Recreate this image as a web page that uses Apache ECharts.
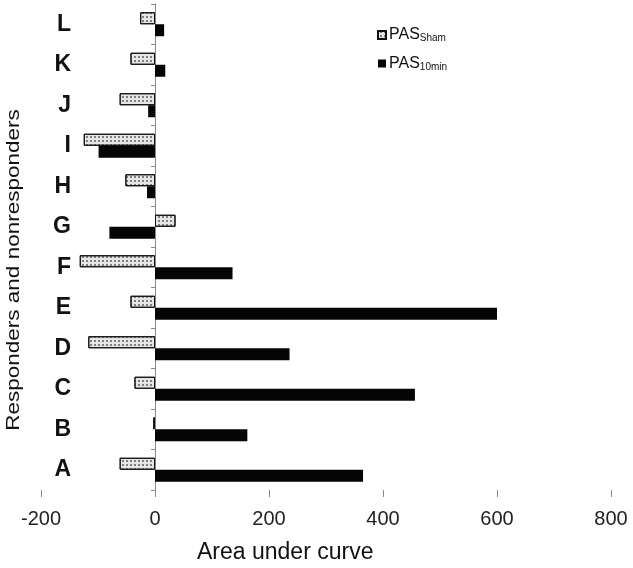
<!DOCTYPE html>
<html><head><meta charset="utf-8">
<script src="https://cdn.jsdelivr.net/npm/echarts@6/dist/echarts.min.js"></script>
<style>html,body{margin:0;padding:0;background:#fff}#c{width:633px;height:568px}</style>
</head><body><div id="c"></div>
<script>
const categories = ['A','B','C','D','E','F','G','H','I','J','K','L'];
const pasSham   = [-62, -3, -36, -117, -43, -132, 36, -52, -125, -62, -43, -26];
const pas10min  = [365, 162, 456, 236, 600, 136, -80, -14, -99, -12, 18, 16];
const xTicks = [-200, 0, 200, 400, 600, 800];
const xTitle = 'Area under curve';
const yTitle = 'Responders and nonresponders';

const chart = echarts.init(document.getElementById('c'), null, {renderer:'canvas'});
const font = 'Liberation Sans, Arial, sans-serif';
const shamStyle = {
  color: '#e6e6e6', borderColor: '#111', borderWidth: 1,
  decal: {symbol: 'rect', symbolSize: 0.7, color: '#222', dashArrayX: [[0, 1.5, 1.5, 0]], dashArrayY: [1.5, 1.5], rotation: 0}
};
chart.setOption({
  animation: false,
  textStyle: {fontFamily: font},
  grid: {left: 41, right: 22, top: 4, bottom: 78, containLabel: false},
  legend: {
    orient: 'vertical', left: 372, top: 22, itemWidth: 8, itemHeight: 8, itemGap: 12, icon: 'rect',
    data: ['Sham', '10min'],
    formatter: n => '{a|PAS}{b|' + n + '}',
    textStyle: {
      rich: {
        a: {fontSize: 16, color: '#111', fontFamily: font, padding: [0,0,0,-2]},
        b: {fontSize: 10, color: '#111', fontFamily: font, verticalAlign: 'bottom', padding: [7,0,0,0]}
      }
    }
  },
  xAxis: {
    type: 'value', min: xTicks[0], max: xTicks[xTicks.length-1], interval: 200,
    axisLine: {onZero: false, lineStyle: {color: '#888', width: 1}},
    axisTick: {show: true, length: 7, lineStyle: {color: '#888'}},
    splitLine: {show: false},
    axisLabel: {fontSize: 20, color: '#222', margin: 19, fontFamily: font}
  },
  yAxis: [{
    type: 'category', data: categories, position: 'left',
    axisLine: {show: false, onZero: false}, axisTick: {show: false},
    axisLabel: {fontSize: 23, fontWeight: 'bold', color: '#111', margin: -30, fontFamily: font, padding: [5,0,0,0]}
  }, {
    type: 'category', data: categories, position: 'right',
    axisLine: {show: true, onZero: true, lineStyle: {color: '#888'}},
    axisTick: {show: true, inside: true, length: 4, lineStyle: {color: '#888'}},
    axisLabel: {show: false}
  }],
  series: [{
    name: 'Sham', type: 'bar', data: pasSham, barWidth: 12, barGap: '0%',
    itemStyle: shamStyle
  }, {
    name: '10min', type: 'bar', data: pas10min, barWidth: 12, barGap: '0%',
    itemStyle: {color: '#050505'}
  }],
  graphic: [{
    type: 'text', left: 197, top: 541,
    style: {text: xTitle, fontSize: 23, fill: '#111', fontFamily: font}
  }, {
    type: 'text', x: 5, y: 270, rotation: Math.PI/2, scaleX: 1.25,
    style: {text: yTitle, fontSize: 18, fill: '#111', fontFamily: font, align: 'center', verticalAlign: 'top'}
  }]
});
</script></body></html>
